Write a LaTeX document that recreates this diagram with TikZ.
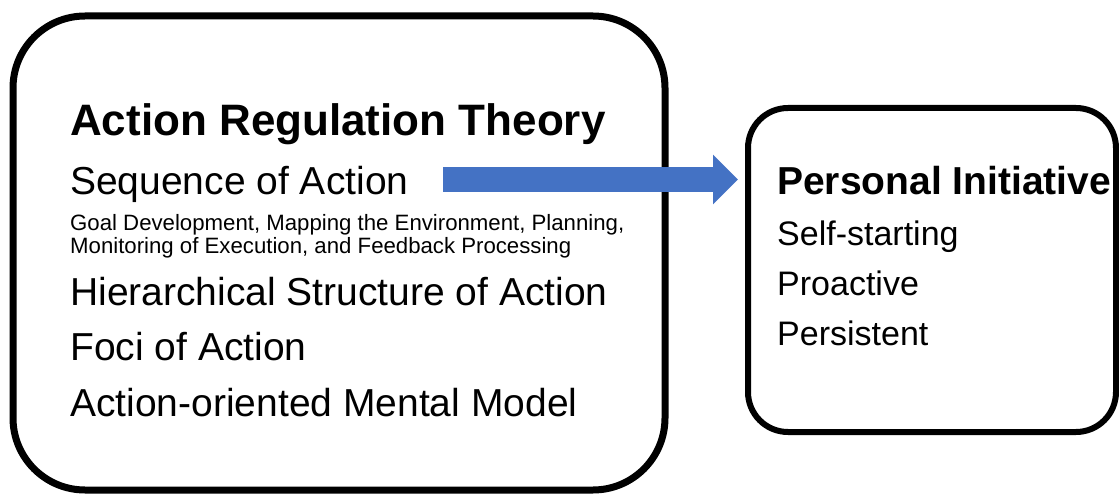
\documentclass[tikz,border=0pt]{standalone}
\usepackage{fontspec}
\setmainfont{Liberation Sans}
\usetikzlibrary{arrows.meta}
\definecolor{arrowblue}{HTML}{4472C4}
\begin{document}
\begin{tikzpicture}[x=1pt,y=-1pt,
  panel/.style={draw=black, fill=none, rounded corners=#1, inner sep=0pt},
  txt/.style={anchor=base west, inner sep=0pt, font=\fontsize{#1}{#1}\selectfont},
  bold/.style={txt=#1, font=\fontsize{#1}{#1}\selectfont\bfseries},
  blockarrow/.style={draw=arrowblue, line width=25pt,
    -{Triangle[length=25pt,width=48pt]}}]
\useasboundingbox (0,0) rectangle (1119,497);

% the two rounded panels
\node[panel=72, line width=7pt, minimum width=652pt, minimum height=474pt] (theory) at (339,253) {};
\node[panel=40, line width=6pt, minimum width=368pt, minimum height=324pt] (initiative) at (932,270) {};

% left panel: action regulation theory
\node[bold=44] (arttitle) at (70,136) {Action Regulation Theory};
\node[txt=39] (sequence) at (70,195) {Sequence of Action};
\node[txt=22.2] (phases1) at (70,231) {Goal Development, Mapping the Environment, Planning,};
\node[txt=22.2] (phases2) at (70,253) {Monitoring of Execution, and Feedback Processing};
\node[txt=39] (hierarchy) at (70,305) {Hierarchical Structure of Action};
\node[txt=39] (foci) at (70,360) {Foci of Action};
\node[txt=39] (mentalmodel) at (70,416) {Action-oriented Mental Model};

% right panel: personal initiative
\node[bold=39] (pititle) at (777,195) {Personal Initiative};
\node[txt=34] (selfstart) at (777,246) {Self-starting};
\node[txt=34] (proactive) at (777,295) {Proactive};
\node[txt=34] (persistent) at (777,345) {Persistent};

% block arrow from the theory to personal initiative
\coordinate (arrowtail) at (443,179.5);
\coordinate (arrowtip) at (738,179.5);
\draw[blockarrow] (arrowtail) -- (arrowtip);
\end{tikzpicture}
\end{document}
